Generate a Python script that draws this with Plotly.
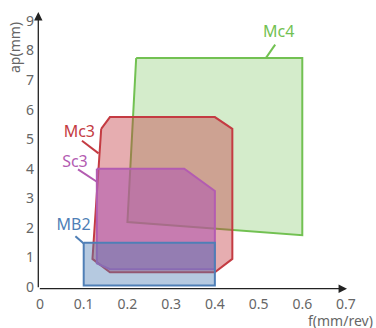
import plotly.graph_objects as go

# Regions (f in mm/rev, ap in mm)
names = ["Mc4", "Mc3", "Sc3", "MB2"]
mc4_f = [0.22, 0.60, 0.60, 0.20]
mc4_ap = [7.75, 7.75, 1.75, 2.2]
mc3_f = [0.14, 0.16, 0.40, 0.44, 0.44, 0.40, 0.16, 0.12]
mc3_ap = [5.35, 5.75, 5.75, 5.35, 0.95, 0.5, 0.5, 0.95]
sc3_f = [0.13, 0.33, 0.40, 0.40, 0.16, 0.13]
sc3_ap = [4.0, 4.0, 3.25, 0.6, 0.6, 0.8]
mb2_f = [0.10, 0.40, 0.40, 0.10]
mb2_ap = [1.5, 1.5, 0.05, 0.05]

# Label positions and leader lines
label_f = [0.546, 0.09, 0.08, 0.077]
label_ap = [8.6, 5.2, 4.2, 2.05]
leader_f = [[0.538, 0.517], [0.096, 0.134], [0.087, 0.130], [0.081, 0.100]]
leader_ap = [[8.2, 7.75], [4.95, 4.52], [3.98, 3.56], [1.72, 1.47]]

x_ticks = [0, 0.1, 0.2, 0.3, 0.4, 0.5, 0.6, 0.7]
y_ticks = [0, 1, 2, 3, 4, 5, 6, 7, 8, 9]

line_colors = ["#72c152", "#c43b42", "#b35cb1", "#4f7fb6"]
fill_colors = ["rgba(114,193,82,0.30)", "rgba(196,59,66,0.42)",
               "rgba(179,92,177,0.60)", "rgba(79,127,182,0.42)"]

polys = [(mc4_f, mc4_ap), (mc3_f, mc3_ap), (sc3_f, sc3_ap), (mb2_f, mb2_ap)]
FONT = "Noto Sans"

fig = go.Figure()
for i, (fx, fy) in enumerate(polys):
    fig.add_trace(go.Scatter(
        x=fx + [fx[0]], y=fy + [fy[0]], mode="lines", fill="toself",
        fillcolor=fill_colors[i], line=dict(color=line_colors[i], width=2),
        hoverinfo="skip", showlegend=False, cliponaxis=False))

for i in range(4):
    fig.add_trace(go.Scatter(
        x=leader_f[i], y=leader_ap[i], mode="lines",
        line=dict(color=line_colors[i], width=2),
        hoverinfo="skip", showlegend=False, cliponaxis=False))
    fig.add_trace(go.Scatter(
        x=[label_f[i]], y=[label_ap[i]], mode="text", text=[names[i]],
        textfont=dict(family=FONT, size=16, color=line_colors[i]),
        hoverinfo="skip", showlegend=False, cliponaxis=False))

PW, PH = 306, 266  # plot area size in px
# axis lines with arrows (paper coordinates, pixel offsets)
fig.add_annotation(x=(347 - 40) / PW, y=-1.7 / PH, xref="paper", yref="paper",
                   ax=-(347 - 38.3), ay=0, axref="pixel", ayref="pixel",
                   text="", showarrow=True, arrowhead=2, arrowsize=1.3,
                   arrowwidth=1.3, arrowcolor="#222")
fig.add_annotation(x=-1.7 / PW, y=(287 - 12) / PH, xref="paper", yref="paper",
                   ax=0, ay=(288.7 - 12), axref="pixel", ayref="pixel",
                   text="", showarrow=True, arrowhead=2, arrowsize=1.3,
                   arrowwidth=1.3, arrowcolor="#222")
fig.add_annotation(x=(15 - 40) / PW, y=(287 - 48) / PH, xref="paper", yref="paper",
                   xanchor="center", yanchor="middle",
                   text="ap(mm)", showarrow=False, textangle=-90,
                   font=dict(family=FONT, size=14, color="#666"))
fig.add_annotation(x=(340 - 40) / PW, y=-(320 - 287) / PH, xref="paper", yref="paper",
                   xanchor="center", yanchor="middle",
                   text="f(mm/rev)", showarrow=False,
                   font=dict(family=FONT, size=14, color="#666"))

fig.update_layout(
    width=376, height=328,
    margin=dict(l=40, r=30, t=21, b=41),
    plot_bgcolor="white", paper_bgcolor="white",
    font=dict(family=FONT, size=14, color="#666"),
    xaxis=dict(range=[0, 0.7], tickvals=x_ticks,
               ticktext=[("%g" % v) for v in x_ticks],
               showgrid=False, zeroline=False, showline=False, ticks="",
               ticklabelstandoff=7),
    yaxis=dict(range=[0, 9], tickvals=y_ticks,
               showgrid=False, zeroline=False, showline=False, ticks="",
               ticklabelstandoff=5),
)

fig.write_html("out.html")
